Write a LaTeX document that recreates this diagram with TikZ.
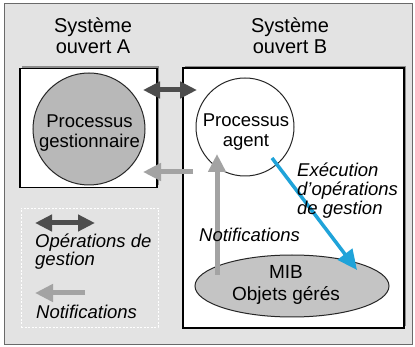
\documentclass[tikz,border=0pt]{standalone}
\usepackage{fontspec}
\setmainfont{Liberation Sans}
\usetikzlibrary{arrows.meta,shapes.geometric,shadows}
\definecolor{bggray}{HTML}{E3E3E3}
\definecolor{framegray}{HTML}{6A6A6A}
\definecolor{circgray}{HTML}{B8B8B8}
\definecolor{ellgray}{HTML}{C4C4C4}
\definecolor{darkarrow}{HTML}{4D4D4D}
\definecolor{lightarrow}{HTML}{A3A3A3}
\definecolor{bluearrow}{HTML}{1FA3D9}
\definecolor{shadowgray}{HTML}{8C8C8C}
\begin{document}
\begin{tikzpicture}[x=1pt,y=-1pt,
  txt/.style={font=\fontsize{18.5}{20}\selectfont, align=center, inner sep=0pt},
  lab/.style={font=\fontsize{18.5}{19}\selectfont\itshape, align=left, inner sep=0pt, anchor=west},
  sysbox/.style={draw=black, line width=1.2pt, fill=white, inner sep=0pt,
     drop shadow={shadow xshift=2pt, shadow yshift=2pt, fill=shadowgray, opacity=1}},
  opsarrow/.style={draw=darkarrow, line width=5pt,
     {Triangle[length=17pt,width=16pt]}-{Triangle[length=17pt,width=16pt]}},
  notifarrow/.style={draw=lightarrow, line width=5pt, -{Triangle[length=18pt,width=17pt]}},
  execarrow/.style={draw=bluearrow, line width=3.5pt, -{Triangle[length=20pt,width=18pt]}}
]
\useasboundingbox (0,0) rectangle (415,347);
\fill[white] (0,0) rectangle (415,347);
\draw[framegray, fill=bggray, line width=1pt] (4,4) rectangle (412,344);

% titles
\node[txt, font=\fontsize{20}{21}\selectfont] (titleA) at (93,36) {Système\\ouvert A};
\node[txt, font=\fontsize{20}{21}\selectfont] (titleB) at (290,36) {Système\\ouvert B};

% system boxes
\node[sysbox, minimum width=137pt, minimum height=119pt] (sysA) at (88.5,128) {};
\node[sysbox, minimum width=221pt, minimum height=260pt] (sysB) at (293.5,198) {};

% legend box
\node[draw=white, line width=0.8pt, dash pattern=on 2pt off 1.5pt, minimum width=137pt, minimum height=119pt, inner sep=0pt] (legend) at (89.5,267.5) {};

% processes
\node[circle, draw=black!85, line width=1pt, fill=circgray, minimum size=112pt, inner sep=0pt] (gest) at (89,129) {};
\node[txt] (gesttxt) at (89.5,133) {Processus\\gestionnaire};
\node[circle, draw=black!85, line width=1pt, fill=white, minimum size=98pt, inner sep=0pt] (agent) at (245,127) {};
\node[txt] (agenttxt) at (246,132) {Processus\\agent};
\node[txt, ellipse, draw=black!85, line width=1pt, fill=ellgray, minimum width=194pt, minimum height=62pt, font=\fontsize{19}{21}\selectfont] (mib) at (292,286) {};
\node[txt, font=\fontsize{19}{22}\selectfont] (mibtxt) at (286,285) {MIB\\Objets gérés};

% connector end points
\coordinate (opA) at (143,90);
\coordinate (opB) at (197,90);
\coordinate (nfB) at (193,172);
\coordinate (nfA) at (143,172);
\coordinate (mibtop) at (217,275);
\coordinate (agentlow) at (217,154);
\coordinate (agentout) at (272,158);
\coordinate (mibin) at (357,270);

\draw[opsarrow] (opA) -- (opB);
\draw[notifarrow] (nfB) -- (nfA);
\draw[notifarrow] (mibtop) -- (agentlow);
\draw[execarrow] (agentout) -- (mibin);

% labels
\node[lab] (execlab) at (297,191) {Exécution\\d'opérations\\de gestion};
\node[lab] (notiflab) at (199,235) {Notifications};

% legend
\coordinate (lgopA) at (35,223);
\coordinate (lgopB) at (95,223);
\coordinate (lgnfA) at (85,293);
\coordinate (lgnfB) at (35,293);
\draw[opsarrow] (lgopA) -- (lgopB);
\draw[notifarrow] (lgnfA) -- (lgnfB);
\node[lab, font=\fontsize{18.5}{17.5}\selectfont\itshape] (lgops) at (35,251.5) {Opérations de\\gestion};
\node[lab] (lgnotif) at (36,312) {Notifications};
\end{tikzpicture}
\end{document}
